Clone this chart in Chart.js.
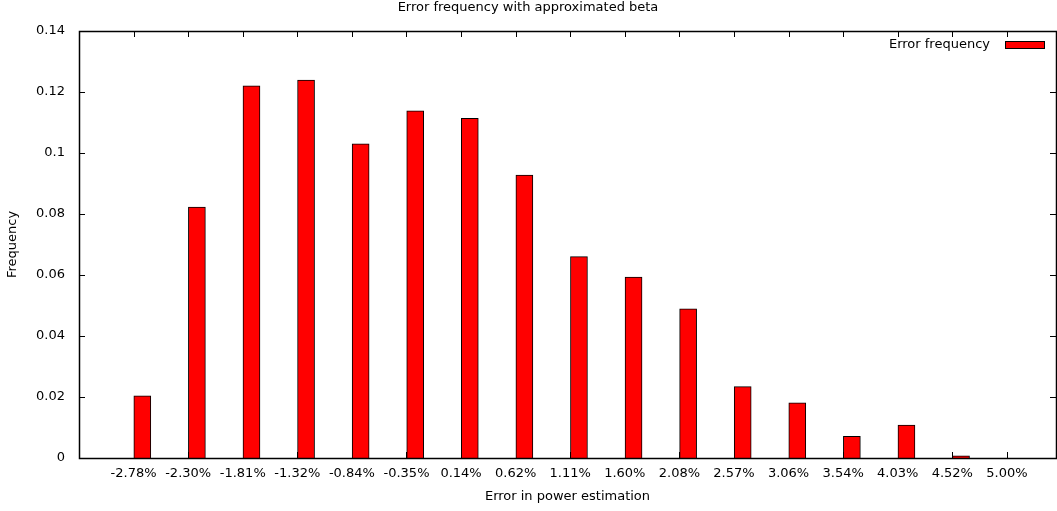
<!DOCTYPE html>
<html>
<head>
<meta charset="utf-8">
<title>Error frequency with approximated beta</title>
<script src="https://cdn.jsdelivr.net/npm/chart.js@4/dist/chart.umd.min.js"></script>
<style>
  html, body { margin: 0; padding: 0; background: #fff; }
  #wrap { width: 1057px; height: 511px; }
</style>
</head>
<body>
<div id="wrap"><canvas id="chart" width="1057" height="511"></canvas></div>
<script>
// Error bins (percent) and the relative frequency of each bin
const categories = ['-2.78%', '-2.30%', '-1.81%', '-1.32%', '-0.84%', '-0.35%', '0.14%', '0.62%',
                    '1.11%', '1.60%', '2.08%', '2.57%', '3.06%', '3.54%', '4.03%', '4.52%', '5.00%'];
const frequency = [0.0204, 0.0823, 0.1220, 0.1239, 0.1030, 0.1138, 0.1114, 0.0928,
                   0.0660, 0.0593, 0.0489, 0.0234, 0.0181, 0.0071, 0.0108, 0.0007, 0];
const yTicks = [0, 0.02, 0.04, 0.06, 0.08, 0.1, 0.12, 0.14];

const FONT = 'DejaVu Sans';
const FS = 13;
Chart.defaults.font.family = FONT;
Chart.defaults.font.size = FS;
Chart.defaults.color = '#000';

// each box sits just right of its category tick
const BAR_SHIFT = 0.16;

// gnuplot-like frame with inward tick marks on all four sides
const framePlugin = {
  id: 'frame',
  beforeDatasetsDraw(chart) {
    const { ctx, chartArea: a, scales: { x, y } } = chart;
    ctx.save();
    ctx.strokeStyle = '#000';
    ctx.lineWidth = 1;
    ctx.beginPath();
    const L = 6;
    yTicks.forEach(v => {
      const py = Math.round(y.getPixelForValue(v)) + 0.5;
      ctx.moveTo(a.left, py); ctx.lineTo(a.left + L, py);
      ctx.moveTo(a.right, py); ctx.lineTo(a.right - L, py);
    });
    categories.forEach((_, i) => {
      const px = Math.round(x.getPixelForValue(i)) + 0.5;
      ctx.moveTo(px, a.bottom); ctx.lineTo(px, a.bottom - L);
      ctx.moveTo(px, a.top); ctx.lineTo(px, a.top + L);
    });
    ctx.stroke();
    ctx.restore();
  },
  afterDraw(chart) {
    const { ctx, chartArea: a } = chart;
    ctx.save();
    ctx.strokeStyle = '#000';
    ctx.lineWidth = 1.5;
    ctx.strokeRect(Math.round(a.left) + 0.5, Math.round(a.top) + 0.5,
                   Math.round(a.right - a.left), Math.round(a.bottom - a.top));
    // key in the top right corner: label text, then the sample box
    const ds = chart.data.datasets[0];
    const bx = a.right - 51, by = a.top + 10;
    ctx.font = FS + 'px "' + FONT + '"';
    ctx.fillStyle = '#000';
    ctx.textAlign = 'right';
    ctx.textBaseline = 'middle';
    ctx.fillText(ds.label, bx - 15, by + 3.5);
    ctx.fillStyle = ds.backgroundColor;
    ctx.fillRect(bx, by, 39, 7);
    ctx.lineWidth = 1;
    ctx.strokeStyle = ds.borderColor;
    ctx.strokeRect(bx + 0.5, by + 0.5, 39, 7);
    ctx.restore();
  }
};

new Chart(document.getElementById('chart'), {
  type: 'bar',
  data: {
    datasets: [{
      label: 'Error frequency',
      data: frequency.map((v, i) => ({ x: i + BAR_SHIFT, y: v })),
      backgroundColor: '#ff0000',
      borderColor: '#000000',
      borderWidth: 1,
      barThickness: 17
    }]
  },
  options: {
    responsive: false,
    animation: false,
    layout: { padding: { left: 0, right: 1, top: 0, bottom: 0 } },
    plugins: {
      legend: { display: false },
      tooltip: { enabled: false },
      title: {
        display: true,
        text: 'Error frequency with approximated beta',
        font: { size: FS, weight: 'normal' },
        color: '#000',
        padding: { top: 0, bottom: 15.4 }
      }
    },
    scales: {
      x: {
        type: 'linear',
        offset: false,
        min: -1,
        max: 16.9,
        afterFit(scale) { scale.height = 53; },
        afterBuildTicks(scale) { scale.ticks = categories.map((_, i) => ({ value: i })); },
        grid: { display: false, drawTicks: false, offset: false },
        border: { display: false },
        ticks: {
          autoSkip: false,
          maxRotation: 0,
          padding: 8,
          callback: v => categories[v]
        },
        title: {
          display: true,
          text: 'Error in power estimation',
          padding: { top: 0, bottom: 6.5 }
        }
      },
      y: {
        min: 0,
        max: 0.14,
        afterFit(scale) { scale.width = 79; },
        afterBuildTicks(scale) { scale.ticks = yTicks.map(v => ({ value: v })); },
        grid: { display: false, drawTicks: false },
        border: { display: false },
        ticks: {
          padding: 14,
          callback: v => String(parseFloat(v.toFixed(2)))
        },
        title: {
          display: true,
          text: 'Frequency',
          padding: { top: 5.2, bottom: 0 }
        }
      }
    }
  },
  plugins: [framePlugin]
});
</script>
</body>
</html>
